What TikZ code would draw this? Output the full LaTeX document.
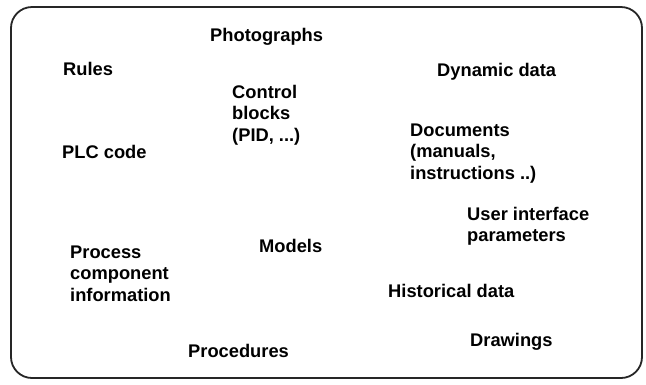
\documentclass[tikz,border=0pt]{standalone}
\usepackage{fontspec}
\setmainfont{Liberation Sans}
\begin{document}
\begin{tikzpicture}[x=1pt,y=-1pt,
  frame/.style={draw=black!85, line width=1.8pt, rounded corners=21pt},
  item/.style={anchor=base west, inner sep=0pt, align=left,
    font=\fontsize{18.3}{21.7}\selectfont\bfseries}]
  \useasboundingbox (0,0) rectangle (646,384);
  % outer frame
  \draw[frame] (11,7) rectangle (642,378);
  % knowledge items (multi-line nodes are placed by their last baseline)
  \node[item] (photo) at (210,41) {Photographs};
  \node[item] (rules) at (63,75) {Rules};
  \node[item] (dyn) at (437,76) {Dynamic data};
  \node[item] (ctrl) at (232,141.4) {Control\\blocks\\(PID, ...)};
  \node[item] (docs) at (410,179.4) {Documents\\(manuals,\\instructions ..)};
  \node[item] (plc) at (62,158) {PLC code};
  \node[item] (ui) at (467,241.7) {User interface\\parameters};
  \node[item] (models) at (259,252) {Models};
  \node[item] (proc) at (70,301.4) {Process\\component\\information};
  \node[item] (hist) at (388,297) {Historical data};
  \node[item] (draw) at (470,346) {Drawings};
  \node[item] (procd) at (188,357) {Procedures};
\end{tikzpicture}
\end{document}
